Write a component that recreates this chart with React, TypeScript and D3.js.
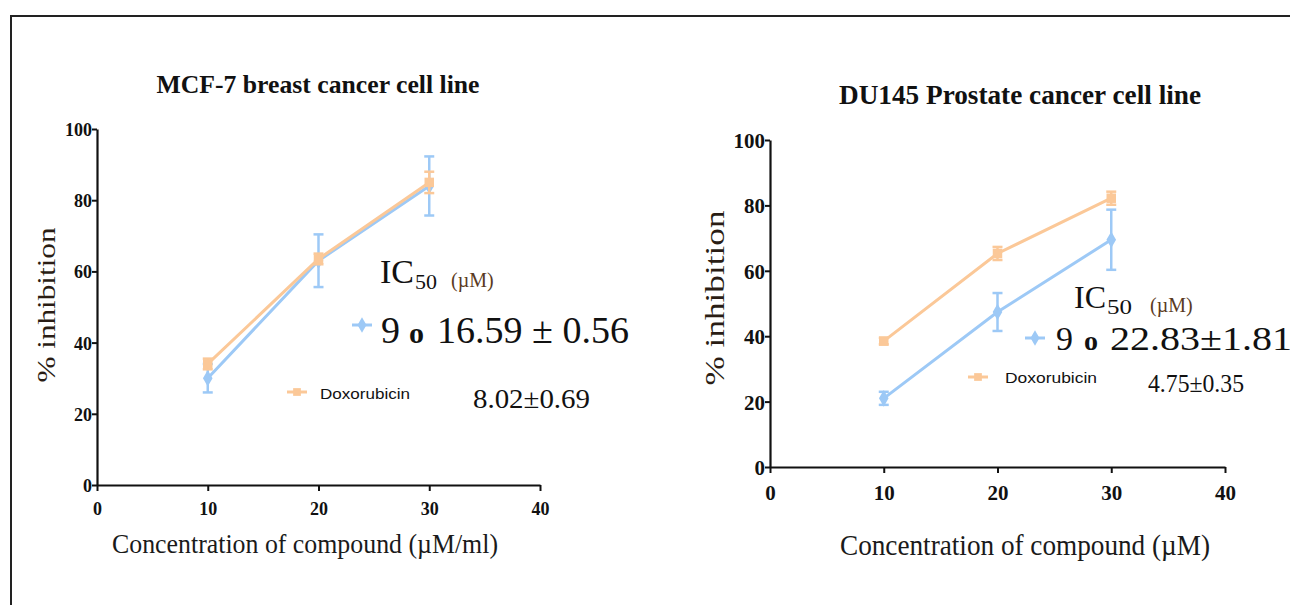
import { useEffect, useRef } from 'react';
import * as d3 from 'd3';

// data
const concentrations = [10, 20, 30];

const mcf7Compound9 = [30, 63, 84];
const mcf7Compound9Err = [4, 7.4, 8.3];
const mcf7Doxorubicin = [34, 63.5, 85];
const mcf7DoxorubicinErr = [1.5, 1.5, 3];

const du145Compound9 = [21, 47.4, 69.5];
const du145Compound9Err = [2, 5.8, 9.2];
const du145Doxorubicin = [38.5, 65.3, 82.2];
const du145DoxorubicinErr = [1, 2, 2];

const xTicks = [0, 10, 20, 30, 40];
const yTicks = [0, 20, 40, 60, 80, 100];

const BLUE = '#9dc9f6';
const ORANGE = '#fbc898';
const SERIF = '"Liberation Serif", "Times New Roman", serif';
const SANS = '"Liberation Sans", Arial, sans-serif';

const panels = [
    {
        title: 'MCF-7 breast cancer cell line',
        titleX: 318, titleY: 93, titleSize: 25, titleLen: 323,
        xLabel: 'Concentration of compound (\u00b5M/ml)',
        xLabelX: 305, xLabelY: 553, xLabelLen: 386, xLabelSize: 27,
        yLabelX: 55, yLabelY: 305, yLabelLen: 155, yLabelSize: 26,
        left: 97, right: 540, bottom: 485, top: 129,
        tickSize: 19, tickChar: 9, xTickDy: 30,
        compound: mcf7Compound9, compoundErr: mcf7Compound9Err,
        dox: mcf7Doxorubicin, doxErr: mcf7DoxorubicinErr,
        ic: { x: 380, y: 283, size: 34, sub: 20, unit: 20, subLen: 22, unitDx: 14 },
        cmp: { lx: 352, ly: 325, x: 381, y: 343, size: 38, oSize: 30, oX: 409, valueX: 437, value: '16.59 \u00b1 0.56', valueLen: 192 },
        doxLeg: { lx: 287, ly: 392, x: 320, y: 399, len: 90 },
        doxVal: { x: 473, y: 408, text: '8.02\u00b10.69', len: 117, size: 28 },
    },
    {
        title: 'DU145 Prostate cancer cell line',
        titleX: 1020, titleY: 104, titleSize: 27, titleLen: 362,
        xLabel: 'Concentration of compound (\u00b5M)',
        xLabelX: 1025, xLabelY: 555, xLabelLen: 370, xLabelSize: 29,
        yLabelX: 724, yLabelY: 298, yLabelLen: 175, yLabelSize: 28,
        left: 770, right: 1225, bottom: 467, top: 140,
        tickSize: 22, tickChar: 10.5, xTickDy: 33,
        compound: du145Compound9, compoundErr: du145Compound9Err,
        dox: du145Doxorubicin, doxErr: du145DoxorubicinErr,
        ic: { x: 1074, y: 308, size: 32, sub: 20, unit: 20, subLen: 25, unitDx: 18 },
        cmp: { lx: 1025, ly: 338, x: 1056, y: 350, size: 34, oSize: 28, oX: 1084, valueX: 1110, value: '22.83\u00b11.81', valueLen: 182 },
        doxLeg: { lx: 968, ly: 377, x: 1005, y: 383, len: 92 },
        doxVal: { x: 1148, y: 392, text: '4.75\u00b10.35', len: 96, size: 25 },
    },
];

export default function App() {
    const svgRef = useRef(null);

    useEffect(() => {
        document.body.style.margin = '0';
        const svg = d3.select(svgRef.current);
        svg.selectAll('*').remove();

        svg.append('rect')
            .attr('width', 1290).attr('height', 605).attr('fill', '#fff');

        // outer frame
        svg.append('rect')
            .attr('x', 11).attr('y', 16)
            .attr('width', 1300).attr('height', 620)
            .attr('fill', 'none').attr('stroke', '#222').attr('stroke-width', 2);

        panels.forEach((p) => {
            const x = d3.scaleLinear().domain([0, 40]).range([p.left, p.right]);
            const y = d3.scaleLinear().domain([0, 100]).range([p.bottom, p.top]);
            const g = svg.append('g');

            // axes
            const xAxis = g.append('g')
                .attr('transform', `translate(0,${p.bottom})`)
                .call(d3.axisBottom(x).tickValues(xTicks).tickSize(6).tickSizeOuter(0));
            const yAxis = g.append('g')
                .attr('transform', `translate(${p.left},0)`)
                .call(d3.axisLeft(y).tickValues(yTicks).tickSize(5).tickSizeOuter(0));
            [xAxis, yAxis].forEach((a) => {
                a.select('.domain').attr('stroke', '#111').attr('stroke-width', 2.2);
                a.selectAll('.tick line').attr('stroke', '#111').attr('stroke-width', 2);
                a.selectAll('.tick text')
                    .attr('font-family', SERIF)
                    .attr('font-weight', 'bold')
                    .attr('font-size', p.tickSize)
                    .attr('textLength', (d) => String(d).length * p.tickChar)
                    .attr('lengthAdjust', 'spacingAndGlyphs')
                    .attr('fill', '#111');
            });
            xAxis.selectAll('.tick text').attr('y', p.xTickDy).attr('dy', 0);
            yAxis.selectAll('.tick text').attr('x', -5).attr('dy', '0.34em');

            const series = [
                { v: p.compound, e: p.compoundErr, color: BLUE, shape: 'diamond' },
                { v: p.dox, e: p.doxErr, color: ORANGE, shape: 'square' },
            ];

            series.forEach((s) => {
                const pts = concentrations.map((c, i) => ({ c, v: s.v[i], e: s.e[i] }));
                const line = d3.line().x((d) => x(d.c)).y((d) => y(d.v));
                g.append('path')
                    .datum(pts)
                    .attr('d', line)
                    .attr('fill', 'none')
                    .attr('stroke', s.color)
                    .attr('stroke-width', 3);

                // error bars
                const eg = g.append('g').attr('stroke', s.color).attr('stroke-width', 2.5);
                pts.forEach((d) => {
                    eg.append('line')
                        .attr('x1', x(d.c)).attr('x2', x(d.c))
                        .attr('y1', y(d.v - d.e)).attr('y2', y(d.v + d.e));
                    [d.v - d.e, d.v + d.e].forEach((yy) => {
                        eg.append('line')
                            .attr('x1', x(d.c) - 5).attr('x2', x(d.c) + 5)
                            .attr('y1', y(yy)).attr('y2', y(yy));
                    });
                });

                const sym = d3.symbol()
                    .type(s.shape === 'square' ? d3.symbolSquare : d3.symbolDiamond)
                    .size(s.shape === 'square' ? 90 : 80);
                g.selectAll(null)
                    .data(pts)
                    .join('path')
                    .attr('d', sym)
                    .attr('transform', (d) => `translate(${x(d.c)},${y(d.v)})`)
                    .attr('fill', s.color);
            });

            // title
            g.append('text')
                .attr('x', p.titleX).attr('y', p.titleY)
                .attr('text-anchor', 'middle')
                .attr('font-family', SERIF).attr('font-weight', 'bold')
                .attr('font-size', p.titleSize)
                .attr('textLength', p.titleLen).attr('lengthAdjust', 'spacingAndGlyphs')
                .attr('fill', '#111')
                .text(p.title);

            // axis labels
            g.append('text')
                .attr('x', p.xLabelX).attr('y', p.xLabelY)
                .attr('text-anchor', 'middle')
                .attr('font-family', SERIF).attr('font-size', p.xLabelSize)
                .attr('textLength', p.xLabelLen).attr('lengthAdjust', 'spacingAndGlyphs')
                .attr('fill', '#1a1a1a')
                .text(p.xLabel);
            g.append('text')
                .attr('transform', `translate(${p.yLabelX},${p.yLabelY}) rotate(-90)`)
                .attr('text-anchor', 'middle')
                .attr('font-family', SERIF).attr('font-size', p.yLabelSize)
                .attr('textLength', p.yLabelLen).attr('lengthAdjust', 'spacingAndGlyphs')
                .attr('fill', '#2a1d14')
                .text('% inhibition');

            // IC50 header
            g.append('text')
                .attr('x', p.ic.x).attr('y', p.ic.y)
                .attr('font-family', SERIF).attr('font-size', p.ic.size)
                .attr('fill', '#111')
                .text('IC');
            const icW = p.ic.size * 1.0;
            g.append('text')
                .attr('x', p.ic.x + icW + 1).attr('y', p.ic.y + 6)
                .attr('font-family', SERIF).attr('font-size', p.ic.sub)
                .attr('textLength', p.ic.subLen).attr('lengthAdjust', 'spacingAndGlyphs')
                .attr('fill', '#111')
                .text('50');
            g.append('text')
                .attr('x', p.ic.x + icW + 1 + p.ic.subLen + p.ic.unitDx).attr('y', p.ic.y + 4)
                .attr('font-family', SERIF).attr('font-size', p.ic.unit)
                .attr('fill', '#5a3a22')
                .text('(\u00b5M)');

            // compound 9 legend
            g.append('line')
                .attr('x1', p.cmp.lx).attr('x2', p.cmp.lx + 20)
                .attr('y1', p.cmp.ly).attr('y2', p.cmp.ly)
                .attr('stroke', BLUE).attr('stroke-width', 3);
            g.append('path')
                .attr('d', d3.symbol().type(d3.symbolDiamond).size(70))
                .attr('transform', `translate(${p.cmp.lx + 10},${p.cmp.ly})`)
                .attr('fill', BLUE);
            g.append('text')
                .attr('x', p.cmp.x).attr('y', p.cmp.y)
                .attr('font-family', SERIF).attr('font-size', p.cmp.size)
                .attr('fill', '#111')
                .text('9');
            g.append('text')
                .attr('x', p.cmp.oX).attr('y', p.cmp.y)
                .attr('font-family', SERIF).attr('font-size', p.cmp.oSize).attr('font-weight', 'bold')
                .attr('fill', '#111')
                .text('o');
            g.append('text')
                .attr('x', p.cmp.valueX).attr('y', p.cmp.y)
                .attr('font-family', SERIF).attr('font-size', p.cmp.size)
                .attr('textLength', p.cmp.valueLen).attr('lengthAdjust', 'spacingAndGlyphs')
                .attr('fill', '#111')
                .text(p.cmp.value);

            // doxorubicin legend
            g.append('line')
                .attr('x1', p.doxLeg.lx).attr('x2', p.doxLeg.lx + 20)
                .attr('y1', p.doxLeg.ly).attr('y2', p.doxLeg.ly)
                .attr('stroke', ORANGE).attr('stroke-width', 3);
            g.append('path')
                .attr('d', d3.symbol().type(d3.symbolSquare).size(60))
                .attr('transform', `translate(${p.doxLeg.lx + 10},${p.doxLeg.ly})`)
                .attr('fill', ORANGE);
            g.append('text')
                .attr('x', p.doxLeg.x).attr('y', p.doxLeg.y)
                .attr('font-family', SANS).attr('font-size', 15)
                .attr('textLength', p.doxLeg.len).attr('lengthAdjust', 'spacingAndGlyphs')
                .attr('fill', '#111')
                .text('Doxorubicin');
            g.append('text')
                .attr('x', p.doxVal.x).attr('y', p.doxVal.y)
                .attr('font-family', SERIF).attr('font-size', p.doxVal.size)
                .attr('textLength', p.doxVal.len).attr('lengthAdjust', 'spacingAndGlyphs')
                .attr('fill', '#111')
                .text(p.doxVal.text);
        });
    }, []);

    return (
        <svg ref={svgRef} width={1290} height={605} style={{ display: 'block' }} />
    );
}
